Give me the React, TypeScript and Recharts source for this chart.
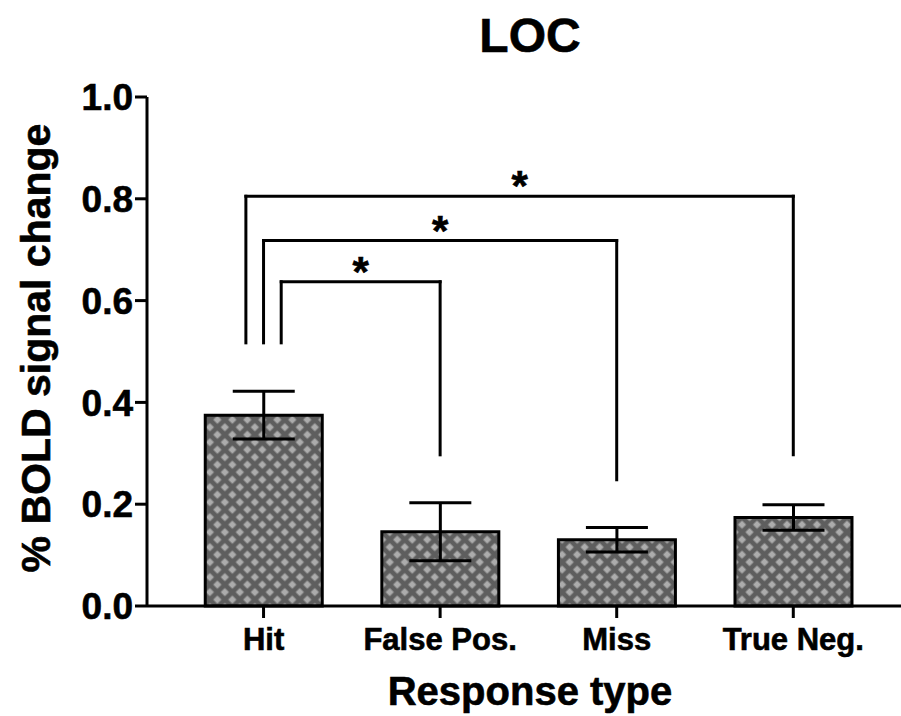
import React from 'react';
import { BarChart, Bar, XAxis, YAxis, ErrorBar, ReferenceLine } from 'recharts';

// Mean % BOLD signal change in LOC per response type, with SEM
const categories = ['Hit', 'False Pos.', 'Miss', 'True Neg.'];
const meanChange = [0.375, 0.146, 0.13, 0.174];
const semChange = [0.047, 0.057, 0.024, 0.025];
const yTicks = [0, 0.2, 0.4, 0.6, 0.8, 1.0];

// Pairwise significance brackets (Hit vs. each other response type)
const compFrom = [0, 0, 0];
const compTo = [1, 2, 3];
const bracketHeight = [0.637, 0.718, 0.805];
const fromLegEnd = [0.517, 0.517, 0.517];
const toLegEnd = [0.297, 0.248, 0.297];
const compMark = ['*', '*', '*'];

const FONT = '"Liberation Sans", Arial, Helvetica, sans-serif';
const W = 901;
const H = 716;

const data = categories.map((name, i) => ({
  pos: i,
  name,
  value: meanChange[i],
  sem: semChange[i],
}));

// Left legs of the stacked brackets are staggered around the Hit bar centre
const legStagger = (i: number) => (1 - i) * 0.1;

// Heavy bold text used throughout the figure
const boldText = { fontFamily: FONT, fontWeight: 'bold' as const, fill: '#000', stroke: '#000', strokeWidth: 0.6 };

const StarLabel = (props: any) => {
  const vb = props.viewBox || {};
  const cx = vb.x + (vb.width || 0) / 2;
  return (
    <text x={cx} y={vb.y + 4} textAnchor="middle" fontSize={42} {...boldText}>
      {props.mark}
    </text>
  );
};

const XTick = (props: any) => {
  const { x, y, payload } = props;
  return (
    <text x={x} y={y} dy="0.71em" textAnchor="middle" fontSize={31} {...boldText}>
      {categories[payload.value]}
    </text>
  );
};

const YTick = (props: any) => {
  const { x, y, payload } = props;
  return (
    <text x={x} y={y} dy="0.355em" textAnchor="end" fontSize={37} {...boldText}>
      {Number(payload.value).toFixed(1)}
    </text>
  );
};

export default function App() {
  const brackets: React.ReactNode[] = [];
  compFrom.forEach((from, i) => {
    const to = compTo[i];
    const xa = from + legStagger(i);
    const xb = to;
    const yTop = bracketHeight[i];
    const lineProps = {
      stroke: '#000',
      strokeWidth: 3,
      strokeLinecap: 'square' as const,
      ifOverflow: 'visible' as const,
    };
    brackets.push(
      <ReferenceLine key={`l${i}`} {...lineProps} segment={[{ x: xa, y: fromLegEnd[i] }, { x: xa, y: yTop }]} />,
      <ReferenceLine
        key={`t${i}`}
        {...lineProps}
        segment={[{ x: xa, y: yTop }, { x: xb, y: yTop }]}
        label={(p: any) => <StarLabel {...p} mark={compMark[i]} />}
      />,
      <ReferenceLine key={`r${i}`} {...lineProps} segment={[{ x: xb, y: toLegEnd[i] }, { x: xb, y: yTop }]} />
    );
  });

  return (
    <div style={{ position: 'absolute', left: 0, top: 0, width: W, height: H, background: '#fff' }}>
      <svg width={0} height={0} style={{ position: 'absolute' }}>
        <defs>
          <pattern id="crosshatch" patternUnits="userSpaceOnUse" width={10.6} height={10.6} patternTransform="rotate(45)">
            <rect x={0} y={0} width={10.6} height={10.6} fill="#5e5e5e" />
            <rect x={2.4} y={2.4} width={5.8} height={5.8} fill="#acacac" />
          </pattern>
        </defs>
      </svg>
      <BarChart width={W} height={H} data={data} margin={{ top: 97, right: 0, bottom: 0, left: 0 }}>
        <XAxis
          dataKey="pos"
          type="number"
          domain={[-0.66, 3.61]}
          allowDataOverflow
          ticks={[0, 1, 2, 3]}
          interval={0}
          height={110}
          tickSize={12}
          tickMargin={10}
          axisLine={{ stroke: '#000', strokeWidth: 3 }}
          tickLine={{ stroke: '#000', strokeWidth: 3 }}
          tick={<XTick />}
          label={{
            content: () => (
              <text x={530} y={705} textAnchor="middle" fontSize={40} {...boldText}>
                Response type
              </text>
            ),
          }}
        />
        <YAxis
          type="number"
          domain={[0, 1]}
          ticks={yTicks}
          width={147}
          tickSize={12}
          tickMargin={2}
          axisLine={{ stroke: '#000', strokeWidth: 3 }}
          tickLine={{ stroke: '#000', strokeWidth: 3 }}
          tick={<YTick />}
          label={{
            content: () => (
              <text
                x={50}
                y={348}
                transform="rotate(-90, 50, 348)"
                textAnchor="middle"
                fontSize={41}
                {...boldText}
              >
                % BOLD signal change
              </text>
            ),
          }}
        />
        <Bar dataKey="value" barSize={117} fill="url(#crosshatch)" stroke="#000" strokeWidth={3} isAnimationActive={false}>
          <ErrorBar dataKey="sem" width={31} stroke="#000" strokeWidth={3} direction="y" />
        </Bar>
        {brackets}
      </BarChart>
      <svg width={W} height={H} style={{ position: 'absolute', left: 0, top: 0, pointerEvents: 'none' }}>
        <text x={530} y={52} textAnchor="middle" fontSize={48} {...boldText}>
          LOC
        </text>
      </svg>
    </div>
  );
}
